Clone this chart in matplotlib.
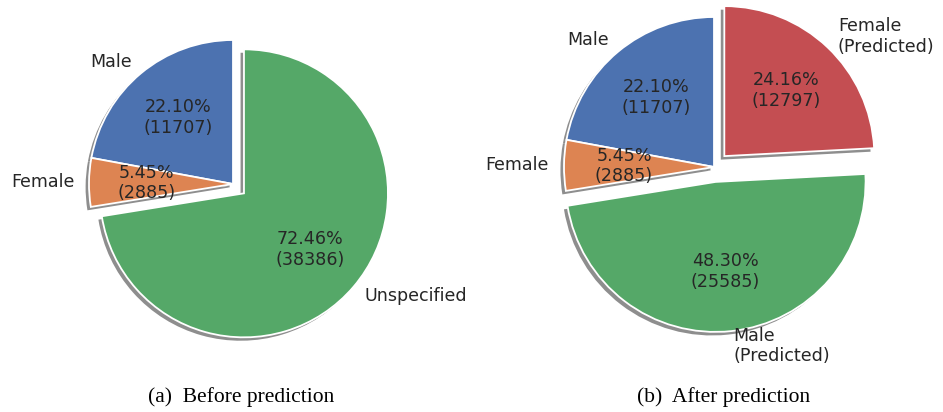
import matplotlib
matplotlib.use("Agg")
import matplotlib.pyplot as plt

# gender counts before and after prediction
labels_before = ["Male", "Female", "Unspecified"]
counts_before = [11707, 2885, 38386]
explode_before = [0, 0, 0.1]

labels_after = ["Male", "Female", "Male\n(Predicted)", "Female\n(Predicted)"]
counts_after = [11707, 2885, 25585, 12797]
explode_after = [0, 0, 0.1, 0.1]

captions = ["(a)  Before prediction", "(b)  After prediction"]

colors = ["#4C72B0", "#DD8452", "#55A868", "#C44E52"]
text_color = "#262626"

W, H = 943, 412
fig = plt.figure(figsize=(W / 100, H / 100), dpi=100)
fig.patch.set_facecolor("white")


def make_autopct(values):
    total = sum(values)

    def fmt(p):
        return f"{p:.2f}%\n({round(p * total / 100)})"
    return fmt


def pie_axes(x0, x1, cx, cy, r, top=0, bottom=370):
    # axes box in pixels, data limits chosen so that radius 1 == r pixels
    ax = fig.add_axes([x0 / W, (H - bottom) / H, (x1 - x0) / W, (bottom - top) / H])
    return ax, ((x0 - cx) / r, (x1 - cx) / r), ((cy - bottom) / r, (cy - top) / r)


def draw_pie(ax, xlim, ylim, labels, counts, explode):
    ax.pie(
        counts,
        labels=labels,
        explode=explode,
        colors=colors[:len(counts)],
        autopct=make_autopct(counts),
        startangle=90,
        shadow=dict(ox=-0.017, oy=-0.017, facecolor="#8e8e8e",
                    edgecolor="none", alpha=1),
        wedgeprops=dict(edgecolor="white", linewidth=1.3),
        textprops=dict(color=text_color, fontsize=12.6),
    )
    ax.set_aspect("auto")
    ax.set_xlim(*xlim)
    ax.set_ylim(*ylim)
    ax.axis("off")


ax_a, xl, yl = pie_axes(0, 480, 233, 184, 144)
draw_pie(ax_a, xl, yl, labels_before, counts_before, explode_before)

ax_b, xl, yl = pie_axes(470, 943, 714, 167, 150)
draw_pie(ax_b, xl, yl, labels_after, counts_after, explode_after)

for xc, cap in zip([241, 724], captions):
    fig.text(xc / W, 1 - 397 / H, cap, ha="center", va="center",
             fontsize=15.5, family="Liberation Serif", color="black")

fig.savefig("out.png", dpi=100)
